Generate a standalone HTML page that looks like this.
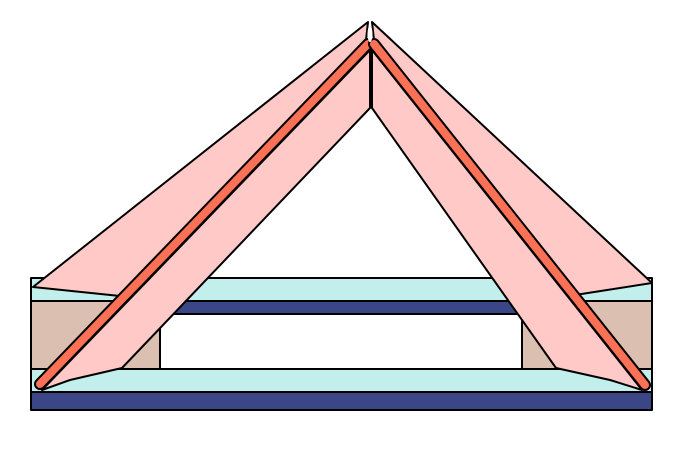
<!DOCTYPE html>
<html><head><meta charset="utf-8"><style>html,body{margin:0;padding:0;background:#fff}svg{display:block}</style></head>
<body>
<svg width="700" height="450" viewBox="0 0 700 450">
<g stroke="#000" stroke-width="2" stroke-linejoin="round">
<rect x="31" y="278" width="621" height="23" fill="#c2eeeb"/>
<rect x="160" y="301" width="362" height="13" fill="#3a4686"/>
<rect x="31" y="301" width="129" height="68" fill="#dbbfb0"/>
<rect x="522" y="301" width="130" height="68" fill="#dbbfb0"/>
<rect x="31" y="369" width="621" height="23" fill="#c2eeeb"/>
<rect x="31" y="392" width="621" height="18" fill="#3a4686"/>
<polygon fill="#fec9c6" points="368,22 33,287 120,296 366,40"/>
<polygon fill="#fec9c6" points="372,22 652,283 575,295 374,40"/>
<polygon fill="#fec9c6" points="370,50 370,108 122,368 70,380 42,390"/>
<polygon fill="#fec9c6" points="372,50 372,108 556,368 610,380 642,390"/>
<line x1="371" y1="45" x2="371" y2="108"/>
</g>
<g stroke-linecap="round">
<line x1="40" y1="384" x2="368" y2="44" stroke="#000" stroke-width="12"/>
<line x1="40" y1="384" x2="368" y2="44" stroke="#fb7156" stroke-width="8"/>
<line x1="374" y1="44" x2="645" y2="385" stroke="#000" stroke-width="12"/>
<line x1="374" y1="44" x2="645" y2="385" stroke="#fb7156" stroke-width="8"/>
</g>
<ellipse cx="370" cy="34" rx="2.5" ry="8" fill="#fff"/>
</svg>
</body></html>
